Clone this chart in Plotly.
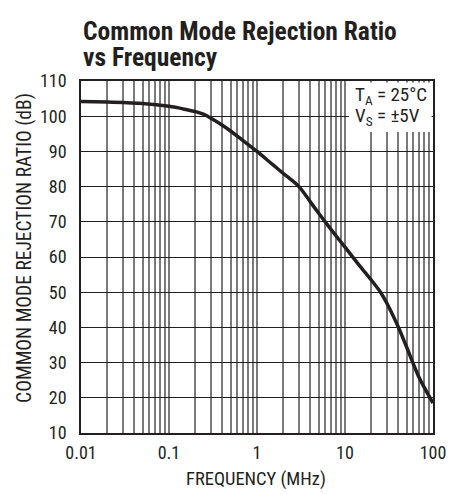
import plotly.graph_objects as go

freq_mhz = [0.01, 0.02, 0.05, 0.1, 0.15, 0.2, 0.25, 0.3, 0.4, 0.5, 0.7, 1, 1.5, 2, 3, 4, 5, 7, 10, 15, 20, 25, 30, 40, 50, 70, 100]
cmrr_db = [104.2, 104.0, 103.6, 102.8, 102.0, 101.3, 100.5, 99.4, 97.5, 95.8, 93.0, 90.0, 86.3, 83.7, 80.0, 75.8, 72.5, 67.7, 62.8, 57.2, 53.4, 50.2, 46.8, 40.3, 34.5, 25.6, 18.5]

x_grid_vals = [m * 10 ** e for e in range(-2, 2) for m in range(1, 10)] + [100]
x_tick_labels = {0.01: "0.01", 0.1: "0.1", 1: "1", 10: "10", 100: "100"}
y_ticks = list(range(10, 111, 10))

title_lines = ["Common Mode Rejection Ratio", "vs Frequency"]
x_title = "FREQUENCY (MHz)"
y_title = "COMMON MODE REJECTION RATIO (dB)"
cond_lines = ["T<sub>A</sub> = 25°C", "V<sub>S</sub> = ±5V"]

FONT = "Roboto Condensed, Liberation Sans Narrow, Arial Narrow, sans-serif"
INK = "#231f20"

fig = go.Figure()
fig.add_trace(go.Scatter(x=freq_mhz, y=cmrr_db, mode="lines",
                         line=dict(color=INK, width=3.5, shape="spline", smoothing=0.8),
                         showlegend=False, hoverinfo="skip"))

# page body has an 8px margin; compensate so the plot area lands at 81..433
fig.update_layout(
    width=453, height=486,
    margin=dict(l=73, r=28, t=73, b=61),
    paper_bgcolor="white", plot_bgcolor="white",
    font=dict(family=FONT, color=INK),
    xaxis=dict(type="log", range=[-2, 2],
               tickvals=x_grid_vals,
               ticktext=[x_tick_labels.get(round(v, 6), "") for v in x_grid_vals],
               showgrid=True, gridcolor="#7a7a7a", gridwidth=1.5,
               showline=True, linecolor=INK, linewidth=1.6, mirror=True,
               ticks="", tickfont=dict(size=18, color=INK), zeroline=False,
               ticklabelstandoff=3),
    yaxis=dict(range=[10, 110], tickvals=y_ticks,
               showgrid=True, gridcolor=INK, gridwidth=1,
               showline=True, linecolor=INK, linewidth=1.6, mirror=True,
               ticks="", tickfont=dict(size=18, color=INK), zeroline=False,
               ticklabelstandoff=9),
)

# title
fig.add_annotation(xref="paper", yref="paper", x=0, y=1.142, xanchor="left", yanchor="middle",
                   text="<b>" + title_lines[0] + "</b>", showarrow=False,
                   font=dict(size=25.5, family=FONT, color=INK))
fig.add_annotation(xref="paper", yref="paper", x=0, y=1.069, xanchor="left", yanchor="middle",
                   text="<b>" + title_lines[1] + "</b>", showarrow=False,
                   font=dict(size=25.5, family=FONT, color=INK))

# axis titles
fig.add_annotation(xref="paper", yref="paper", x=0.497, y=-0.131, xanchor="center", yanchor="middle",
                   text=x_title, showarrow=False, font=dict(size=18.5, family=FONT, color=INK))
fig.add_annotation(xref="paper", yref="paper", x=-0.159, y=0.526, xanchor="center", yanchor="middle",
                   text=y_title, textangle=-90, showarrow=False,
                   font=dict(size=19.5, family=FONT, color=INK))

# condition box
fig.add_shape(type="rect", xref="paper", yref="paper", x0=0.761, x1=0.996, y0=0.855, y1=0.996,
              fillcolor="white", line=dict(width=0), layer="above")
fig.add_annotation(xref="paper", yref="paper", x=0.773, y=0.958, xanchor="left", yanchor="middle",
                   text=cond_lines[0], showarrow=False, font=dict(size=19, family=FONT, color=INK))
fig.add_annotation(xref="paper", yref="paper", x=0.773, y=0.898, xanchor="left", yanchor="middle",
                   text=cond_lines[1], showarrow=False, font=dict(size=19, family=FONT, color=INK))

fig.write_html("out.html")
